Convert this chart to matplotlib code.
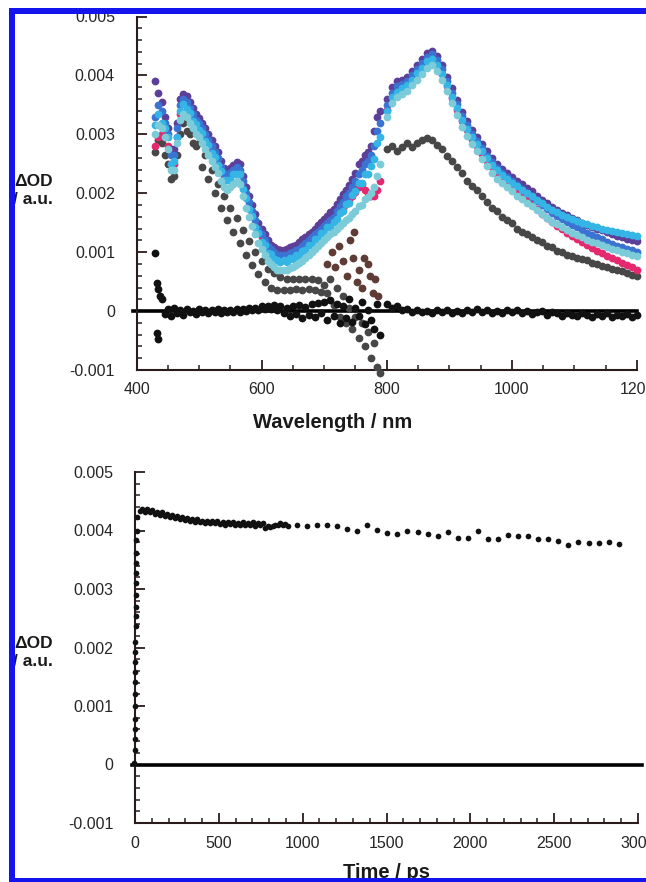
import matplotlib
matplotlib.use("Agg")
import matplotlib.pyplot as plt
import numpy as np
from matplotlib.ticker import MultipleLocator, FuncFormatter
from matplotlib.patches import Rectangle

plt.rcParams['font.family'] = ['Liberation Sans', 'DejaVu Sans']

# ---------------- Top panel: transient spectra (dOD in units of 1e-4) ----------------
wl_vis = list(range(430, 791, 5))
wl_nir = list(range(800, 1201, 8))

purple_vis = [39, 37, 35.5, 33, 31, 27.5, 27.5, 32, 36, 36.8,
              36.5, 35.5, 34.5, 33.5, 32.8, 32, 31, 30, 29, 28,
              27, 25.5, 24.3, 23.8, 24.3, 24.8, 25.3, 25, 23, 21,
              19.5, 18, 16.5, 15, 14, 13, 12, 11.3, 10.8, 10.4,
              10.3, 10.4, 10.5, 10.8, 11, 11.3, 11.8, 12.2, 12.6, 13,
              13.5, 14, 14.6, 15.1, 15.6, 16.2, 16.8, 17.3, 18.2, 19,
              19.8, 20.6, 21.4, 22.5, 23.5, 25, 25.5, 26.5, 27, 28,
              30.5, 33, 34]
blue_vis = [33, 35, 34, 32, 30, 26.5, 26.5, 31, 35, 36,
            35.5, 34.5, 33.5, 32.5, 32, 31, 30, 29, 28, 27,
            26, 24.5, 23.5, 23, 23.5, 24, 24.5, 24, 22, 20,
            18.5, 17, 15.5, 14, 13, 12, 11, 10.5, 10, 9.5,
            9.5, 9.5, 9.5, 9.8, 10, 10.3, 10.6, 11, 11.5, 12,
            12.5, 13, 13.5, 14, 14.5, 15, 15.5, 16, 17, 17.8,
            18.5, 19.5, 20, 21, 22, 23.3, 24, 25, 25.5, 26.5,
            28, 30.5, 32]
cyan_vis = [31.5, 33.5, 32, 31, 29.5, 25, 25.5, 29.5, 34, 35.2,
            34.3, 33.7, 32.3, 31.7, 30.8, 30.2, 28.8, 28.2, 26.8, 26.2,
            24.8, 23.7, 22.3, 22.2, 22.3, 23.2, 23.3, 23.2, 20.8, 19.2,
            17.3, 16.2, 14.3, 13.2, 11.8, 11.2, 9.8, 9.7, 8.8, 8.7,
            8.3, 8.7, 8.3, 9, 8.8, 9.5, 9.4, 10.2, 10.3, 11.2,
            11.3, 12.2, 12.3, 13.2, 13.3, 14.2, 14.3, 15.2, 15.6, 16.7,
            17, 18.2, 18.3, 19.7, 20.3, 21.7, 21.8, 23.2, 23.3, 24.7,
            25.8, 28.5, 29.5]
ltcyan_vis = [30, 31.5, 31, 29.5, 27.5, 24, 24, 28.5, 32.5, 33.5,
              33, 32, 31, 30, 29.5, 28.5, 27.5, 26.5, 25.5, 24.5,
              23.5, 22, 21, 20.5, 21, 21.5, 22, 21.5, 19.5, 17.5,
              16, 14.5, 13, 11.5, 10.5, 9.5, 8.5, 8, 7.5, 7,
              7, 7, 7, 7.3, 7.5, 7.8, 8.1, 8.5, 9, 9.5,
              10, 10.5, 11, 11.5, 12, 12.5, 13, 13.5, 14, 14.5,
              15, 15.5, 15.8, 16.5, 17, 17.8, 18, 19, 19.3, 20,
              21, 23, 25]
pink_vis = [28, 29.5, 30, 29.5, 28, 25, 25, 29.5, 33.5, 35.5,
            35, 34, 33, 32, 31.5, 30.5, 29.5, 28.5, 27.5, 26.5,
            25.5, 24, 23, 22.5, 23, 23.5, 24, 23.5, 21.5, 19.5,
            18, 16.5, 15, 13.5, 12.5, 11.5, 10.8, 10.5, 10, 10.5,
            10.3, 10, 10.5, 10.2, 10.3, 10.5, 10.8, 11.2, 11.5, 12,
            12.4, 12.8, 13.3, 13.8, 14.2, 14.7, 15.2, 15.7, 16.4, 17,
            17.5, 18.2, 18.8, 19.5, 20.2, 21, 21.5, 20.5, 20, 19.5,
            19.5, 20.5, 22]
gray_vis = [27, 29, 28.5, 26.5, 25, 22.5, 23, 26.5, 30, 32,
            30.5, 30, 28.5, 28, 28.5, 24.5, 26.5, 22.5, 24, 20,
            21.5, 17.5, 19.5, 15.5, 17.5, 13.5, 15.8, 11.6, 13.8, 9.6,
            11.9, 7.8, 10, 6.3, 8.5, 5, 7.2, 4, 6.4, 3.6,
            5.8, 3.5, 5.5, 3.6, 5.5, 3.7, 5.4, 3.6, 5.5, 3.7,
            5.4, 3.5, 5.2, 3.2, 4.5, 3, 5.5, 1, 4, -1,
            2.5, -2, 0.5, -3, -1, -4.5, -2, -6, -3.5, -8,
            -5.5, -9.5, -10.5]

purple_nir = [36, 38, 39, 39.3, 39.8, 40.8, 41.8, 42.8, 43.8, 44.2,
              43.3, 41.8, 39.8, 37.8, 35.8, 33.8, 32.3, 30.8, 29.6, 28.3,
              27.1, 26, 25, 24.2, 23.5, 22.8, 22.1, 21.5, 20.9, 20.3,
              19.6, 18.9, 18.3, 17.7, 17.2, 16.7, 16.3, 15.8, 15.4, 15,
              14.6, 14.3, 14, 13.7, 13.4, 13.1, 12.8, 12.5, 12.3, 12.1,
              11.9]
blue_nir = [35, 37, 38.2, 38.6, 39.1, 40.1, 41.1, 42.1, 43.1, 43.6,
            42.6, 41.1, 39.1, 37.1, 35.1, 33.1, 31.6, 30.1, 28.9, 27.6,
            26.4, 25.3, 24.3, 23.5, 22.8, 22.1, 21.4, 20.7, 20.1, 19.4,
            18.7, 18, 17.3, 16.7, 16.2, 15.6, 15.2, 14.6, 14.2, 13.7,
            13.3, 12.9, 12.5, 12.2, 11.8, 11.4, 11.1, 10.8, 10.5, 10.3,
            10]
cyan_nir = [34, 36.3, 37.2, 37.9, 38.3, 39.3, 40.4, 41.3, 42.4, 42.8,
            41.8, 40.3, 38.3, 36.4, 34.4, 32.4, 30.9, 29.5, 28.3, 27.1,
            25.9, 24.8, 23.9, 23.1, 22.5, 21.8, 21.2, 20.6, 20.1, 19.5,
            18.9, 18.3, 17.7, 17.2, 16.8, 16.3, 16, 15.6, 15.3, 15,
            14.7, 14.5, 14.2, 14, 13.8, 13.6, 13.4, 13.2, 13, 12.9,
            12.8]
ltcyan_nir = [33, 35.3, 36.3, 36.8, 37.3, 38.3, 39.3, 40.3, 41.3, 41.8,
              40.8, 39.3, 37.3, 35.3, 33.3, 31.3, 29.8, 28.3, 27.1, 25.8,
              24.6, 23.5, 22.5, 21.7, 21, 20.3, 19.6, 19, 18.4, 17.8,
              17.1, 16.4, 15.8, 15.2, 14.7, 14.2, 13.8, 13.3, 12.9, 12.5,
              12.1, 11.8, 11.5, 11.2, 10.9, 10.6, 10.3, 10, 9.8, 9.6,
              9.4]
pink_nir = [34.2, 36.2, 37.2, 37.7, 38.2, 39.2, 40.2, 41.2, 42.2, 42.7,
            41.7, 40.2, 38.2, 36.2, 34.2, 32.2, 30.7, 29.2, 28, 26.7,
            25.5, 24.4, 23.3, 22.5, 21.7, 21, 20.2, 19.5, 18.8, 18.1,
            17.3, 16.5, 15.8, 15.1, 14.5, 13.9, 13.3, 12.7, 12.2, 11.7,
            11.2, 10.7, 10.2, 9.8, 9.4, 9, 8.6, 8.2, 7.8, 7.4,
            7]
gray_nir = [27.5, 28, 27.2, 27.8, 28.5, 27.8, 28.6, 29, 29.3, 29,
            28.2, 27.5, 26.3, 25.5, 24.5, 23.5, 22, 21.2, 20.5, 19.5,
            18.5, 17.5, 17, 16, 15.5, 15, 14, 13.5, 13, 12.5,
            12, 11.8, 11, 10.8, 10.2, 10, 9.6, 9.3, 9, 8.8,
            8.6, 8.2, 8, 7.7, 7.5, 7.2, 7, 6.8, 6.5, 6.2,
            6]

# spectrum before time zero (scatter around zero)
wl_blk_vis = list(range(445, 791, 5))
blk_vis = [-0.5, 0.3, -0.8, 0.5, -0.3, 0.2, -0.6, 0.4, -0.2, 0,
           -0.5, 0.3, -0.2, 0.1, -0.4, 0.2, -0.1, 0.3, -0.3, 0.1,
           -0.2, 0.2, -0.1, 0.3, -0.2, 0.4, 0, 0.5, 0.1, 0.6,
           0.2, 0.8, 0.3, 0.9, 0.4, 1, 0.2, 0.8, -0.3, 0.6,
           -0.8, 0.9, -0.5, 1, -1.2, 0.7, -0.6, 1.2, -1, 1.3,
           -0.4, 1.5, -1.5, 1.8, -0.8, 1.2, -2, 0.8, -1.2, 2,
           -1.8, 0.5, -0.8, 1.5, -2.2, 0.2, -1.5, -3, 1.2, -4]
blk_nir = [1.2, 0.5, 0.8, 0.2, 0.3, -0.1, 0.2, -0.2, 0, -0.3,
           0.1, -0.2, 0.2, -0.4, 0, -0.3, 0.1, -0.2, 0.3, -0.1,
           0.2, -0.3, 0, -0.4, 0.1, -0.2, 0.2, -0.3, 0, -0.5,
           -0.1, 0, -0.6, -0.2, -0.4, -0.8, -0.3, -0.6, -0.9, -0.4,
           -0.7, -1, -0.5, -0.8, -0.4, -1, -0.6, -0.9, -0.5, -1,
           -0.7]
wl_blk_out = [430, 432, 434, 437, 440, 433, 434]
blk_out = [9.8, 4.8, 3.8, 2.6, 2, -3.8, -4.8]

# brown scatter near the 800 nm gap
wl_brown = [705, 712, 718, 724, 730, 736, 742, 746, 748, 752, 756, 760, 764, 770, 774, 778, 782, 786]
brown = [8, 10, 7.5, 11, 8.5, 6, 12, 9, 13.5, 5, 7, 4, 9, 8, 6, 3, 5.5, 2.5]

# ---------------- Bottom panel: kinetic trace (dOD in units of 1e-4) ----------------
t_rise = [-3, -2.5, -2, -1.5, -1, -0.5, 0, 0.5, 1, 1.5, 2, 2.5, 3, 3.5, 4, 4.5, 5, 5.5, 6, 7, 8, 9]
v_rise = [0.2, 2.4, 4.4, 6.1, 7.8, 10, 12, 14.1, 15.8, 17.5, 19.2, 21, 23.6, 25.3, 27, 29,
          31, 32.7, 34.4, 36.1, 38.3, 40]
t_dense = list(range(12, 913, 15))
v_dense = [42.3, 43.3, 43.7, 43.2, 43.7, 43.1, 43.5, 42.9, 43.2, 42.7,
           43.1, 42.5, 42.9, 42.3, 42.6, 42.1, 42.5, 42, 42.3, 41.8,
           42.2, 41.7, 42, 41.5, 41.9, 41.4, 41.7, 41.3, 41.7, 41.2,
           41.6, 41.2, 41.6, 41.1, 41.5, 41, 41.4, 41.1, 41.5, 40.9,
           41.3, 40.9, 41.4, 41, 41.3, 40.9, 41.4, 40.8, 41.2, 41,
           41.3, 40.5, 40.7, 40.6, 40.8, 40.9, 41, 41.2, 40.9, 41.1,
           40.8]
t_sparse = [965, 1025, 1085, 1145, 1205, 1265, 1325, 1385, 1445, 1505, 1565,
            1625, 1685, 1745, 1805, 1865, 1925, 1985, 2045, 2105, 2165, 2225,
            2285, 2345, 2405, 2465, 2525, 2585, 2645, 2705, 2765, 2825, 2885]
v_sparse = [40.9, 40.7, 40.9, 41.0, 40.8, 40.3, 40, 41, 40.1, 39.5, 39.4,
            40, 39.7, 39.4, 39, 39.8, 38.8, 38.8, 39.9, 38.6, 38.6, 39.3,
            39, 39.1, 38.6, 38.5, 38.2, 37.6, 38, 37.9, 37.8, 38.1, 37.7]

scale = 1e-4  # values above are in units of 1e-4 dOD

W, H = 646, 882
fig = plt.figure(figsize=(W / 100, H / 100), dpi=100)
ax1 = fig.add_axes([136.5 / W, 1 - 370 / H, 500.5 / W, 353.5 / H])
ax2 = fig.add_axes([135 / W, 1 - 823 / H, 503 / W, 351 / H])

edge = '#2a1c1c'


def fmt(v, pos):
    if abs(v) < 1e-9:
        return '0'
    return f'{v:.3f}'


for ax in (ax1, ax2):
    for s in ('top', 'right'):
        ax.spines[s].set_visible(False)
    for s in ('left', 'bottom'):
        ax.spines[s].set_linewidth(1.5)
        ax.spines[s].set_color(edge)
    ax.set_ylim(-0.001, 0.005)
    ax.yaxis.set_major_locator(MultipleLocator(0.001))
    ax.yaxis.set_minor_locator(MultipleLocator(0.0002))
    ax.yaxis.set_major_formatter(FuncFormatter(fmt))
    ax.tick_params(which='both', direction='in', color=edge, labelcolor='#262626', labelsize=11.5)
    ax.tick_params(which='major', length=7, width=1.3)
    ax.tick_params(which='minor', length=3.5, width=1.1)
    ax.tick_params(axis='y', pad=15.5)
    ax.tick_params(axis='x', pad=9)
    ax.patch.set_alpha(0)

# top panel
ax1.set_xlim(400, 1200)
ax1.xaxis.set_major_locator(MultipleLocator(200))
ax1.xaxis.set_minor_locator(MultipleLocator(50))
ax1.axhline(0, xmin=-0.006, xmax=1, color='black', lw=2.6, zorder=2, clip_on=False)

kw = dict(ls='none', marker='o', ms=5.6, mew=0, zorder=3, clip_on=False)
ax1.plot(wl_vis, np.array(gray_vis) * scale, color='#474747', **kw)
ax1.plot(wl_nir, np.array(gray_nir) * scale, color='#474747', **kw)
series = [(pink_vis, pink_nir, '#e5296f'),
          (purple_vis, purple_nir, '#5c3f99'),
          (blue_vis, blue_nir, '#3a73d1'),
          (cyan_vis, cyan_nir, '#35b5e5'),
          (ltcyan_vis, ltcyan_nir, '#7ccbd8')]
for v_vis, v_nir, c in series:
    ax1.plot(wl_vis, np.array(v_vis) * scale, color=c, **kw)
    ax1.plot(wl_nir, np.array(v_nir) * scale, color=c, **kw)
ax1.plot(wl_brown, np.array(brown) * scale, color='#5e3b34', **kw)
ax1.plot(wl_blk_vis, np.array(blk_vis) * scale, color='#111111', **kw)
ax1.plot(wl_nir, np.array(blk_nir) * scale, color='#111111', **kw)
ax1.plot(wl_blk_out, np.array(blk_out) * scale, color='#111111', **kw)

# bottom panel
ax2.set_xlim(0, 3000)
ax2.xaxis.set_major_locator(MultipleLocator(500))
ax2.xaxis.set_minor_locator(MultipleLocator(100))
ax2.axhline(0, xmin=-0.006, xmax=1.008, color='black', lw=2.6, zorder=2, clip_on=False)
kw2 = dict(ls='none', marker='o', ms=4.1, mew=0, color='#111111', zorder=3, clip_on=False)
ax2.plot(t_rise, np.array(v_rise) * scale, **kw2)
ax2.plot(t_dense, np.array(v_dense) * scale, **kw2)
ax2.plot(t_sparse, np.array(v_sparse) * scale, **kw2)

# axis titles
bold = dict(fontweight='bold', color='#1a1a1a')
fig.text(333 / W, 1 - 422 / H, 'Wavelength / nm', ha='center', va='center', fontsize=14.5, **bold)
fig.text(386.5 / W, 1 - 873 / H, 'Time / ps', ha='center', va='center', fontsize=14.5, **bold)
for y1, y2 in ((181, 200), (643, 662)):
    fig.text(53 / W, 1 - y1 / H, '\u0394OD', ha='right', va='center', fontsize=12.5, **bold)
    fig.text(53 / W, 1 - y2 / H, '/ a.u.', ha='right', va='center', fontsize=12.5, **bold)

# cropped blue frame of the original page
white = dict(facecolor='white', edgecolor='none', zorder=10, transform=fig.transFigure)
fig.add_artist(Rectangle((0, 0), 8.5 / W, 1, **white))
fig.add_artist(Rectangle((0, 1 - 8 / H), 1, 8 / H, **white))
blue = dict(facecolor='#1414ee', edgecolor='none', zorder=11, transform=fig.transFigure)
fig.add_artist(Rectangle((8.5 / W, 1 - 13.5 / H), 1, 5.5 / H, **blue))
fig.add_artist(Rectangle((8.5 / W, 0), 6 / W, 1 - 8 / H, **blue))
fig.add_artist(Rectangle((8.5 / W, 0), 1, 4.5 / H, **blue))

fig.savefig('out.png', dpi=100)
